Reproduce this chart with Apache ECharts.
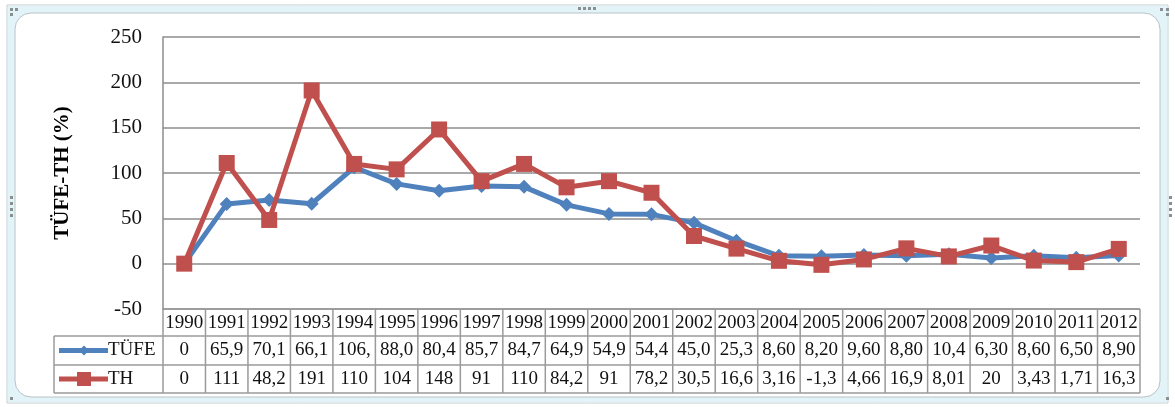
<!DOCTYPE html>
<html><head><meta charset="utf-8">
<script src="https://cdn.jsdelivr.net/npm/echarts@6/dist/echarts.min.js"></script>
<style>html,body{margin:0;padding:0;background:#fff;}#c{width:1175px;height:407px;}</style>
</head><body><div id="c"></div>
<script>
const years = ['1990','1991','1992','1993','1994','1995','1996','1997','1998','1999','2000','2001','2002','2003','2004','2005','2006','2007','2008','2009','2010','2011','2012'];
const tufe = [0,65.9,70.1,66.1,106.3,88.0,80.4,85.7,84.7,64.9,54.9,54.4,45.0,25.3,8.6,8.2,9.6,8.8,10.4,6.3,8.6,6.5,8.9];
const th = [0,111,48.2,191,110,104,148,91,110,84.2,91,78.2,30.5,16.6,3.16,-1.3,4.66,16.9,8.01,20,3.43,1.71,16.3];
const tufeLabels = ['0','65,9','70,1','66,1','106,','88,0','80,4','85,7','84,7','64,9','54,9','54,4','45,0','25,3','8,60','8,20','9,60','8,80','10,4','6,30','8,60','6,50','8,90'];
const thLabels = ['0','111','48,2','191','110','104','148','91','110','84,2','91','78,2','30,5','16,6','3,16','-1,3','4,66','16,9','8,01','20','3,43','1,71','16,3'];
const seriesNames = ['TÜFE','TH'];
const yTicks = {min:-50, max:250, interval:50};

const BLUE = '#4f81bd', RED = '#c0504d', GRID = '#8c8c8c';
const FONT = '"Liberation Serif","DejaVu Serif",serif';
const chart = echarts.init(document.getElementById('c'), null, {renderer:'canvas'});
chart.setOption({
  animation:false,
  grid:{left:163, top:37, right:35, bottom:98, containLabel:false},
  xAxis:{type:'category', data:years, boundaryGap:true,
    axisLine:{show:false}, axisTick:{show:false}, axisLabel:{show:false}, splitLine:{show:false}},
  yAxis:{type:'value', min:yTicks.min, max:yTicks.max, interval:yTicks.interval,
    name:'TÜFE-TH (%)', nameLocation:'middle', nameGap:90, nameRotate:90,
    nameTextStyle:{fontFamily:FONT, fontWeight:'bold', fontSize:21, color:'#000'},
    axisLine:{show:true, lineStyle:{color:GRID, width:1.5}}, axisTick:{show:false},
    axisLabel:{fontFamily:FONT, fontSize:21, color:'#111', margin:21},
    splitLine:{lineStyle:{color:GRID, width:1.5}}},
  series:[
    {name:seriesNames[0], type:'line', data:tufe, symbol:'diamond', symbolSize:14,
     lineStyle:{color:BLUE, width:5}, itemStyle:{color:BLUE}, z:2},
    {name:seriesNames[1], type:'line', data:th, symbol:'rect', symbolSize:16,
     lineStyle:{color:RED, width:5}, itemStyle:{color:RED}, z:3}
  ]
});

function buildTable(){
  const n = years.length;
  const p0 = chart.convertToPixel({gridIndex:0}, [0, yTicks.min]);
  const p1 = chart.convertToPixel({gridIndex:0}, [1, yTicks.min]);
  const bw = p1[0]-p0[0];
  const top = p0[1];
  const r1 = top+27, r2 = r1+29, r3 = r2+28;
  const left0 = p0[0]-bw/2, right0 = left0 + bw*n, legL = 54;
  const els = [];
  const ls = {stroke:'#9a9a9a', lineWidth:1.5};
  [[left0,top],[legL,r1],[legL,r2],[legL,r3]].forEach(([x,y])=>{
    els.push({type:'line', shape:{x1:x,y1:y,x2:right0,y2:y}, style:ls});
  });
  for(let k=0;k<=n;k++){
    const x = left0 + k*bw;
    els.push({type:'line', shape:{x1:x,y1:top,x2:x,y2:r3}, style:ls});
  }
  els.push({type:'line', shape:{x1:legL,y1:r1,x2:legL,y2:r3}, style:ls});
  const ts = {fontFamily:FONT, fontSize:19, fill:'#111', align:'center', verticalAlign:'middle'};
  for(let i=0;i<n;i++){
    const cx = chart.convertToPixel({xAxisIndex:0}, i);
    els.push({type:'text', x:cx, y:(top+r1)/2+1, style:Object.assign({text:years[i]}, ts)});
    els.push({type:'text', x:cx, y:(r1+r2)/2, style:Object.assign({text:tufeLabels[i]}, ts)});
    els.push({type:'text', x:cx, y:(r2+r3)/2, style:Object.assign({text:thLabels[i]}, ts)});
  }
  const ly1=(r1+r2)/2, ly2=(r2+r3)/2;
  els.push({type:'line', shape:{x1:59,y1:ly1,x2:108,y2:ly1}, style:{stroke:BLUE,lineWidth:5}});
  els.push({type:'polygon', shape:{points:[[84,ly1-5],[89,ly1],[84,ly1+5],[79,ly1]]}, style:{fill:BLUE}});
  els.push({type:'line', shape:{x1:59,y1:ly2,x2:108,y2:ly2}, style:{stroke:RED,lineWidth:5}});
  els.push({type:'rect', shape:{x:77,y:ly2-7,width:14,height:14}, style:{fill:RED}});
  const lt = {fontFamily:FONT, fontSize:19, fill:'#111', align:'left', verticalAlign:'middle'};
  els.push({type:'text', x:108, y:ly1, style:Object.assign({text:seriesNames[0]}, lt)});
  els.push({type:'text', x:108, y:ly2, style:Object.assign({text:seriesNames[1]}, lt)});
  const fr = [];
  fr.push({type:'rect', shape:{x:7,y:5,width:1161,height:398}, style:{fill:'none', stroke:'#c3cdd2', lineWidth:1}, z:-10});
  fr.push({type:'rect', shape:{x:8,y:6,width:1159,height:396}, style:{fill:'#e3f4f8'}, z:-11});
  fr.push({type:'rect', shape:{x:15,y:13,width:1145,height:384, r:16}, style:{fill:'#fff', stroke:'#b8c2c6', lineWidth:1}, z:-9});
  const dot = (x,y)=>fr.push({type:'rect', shape:{x:x,y:y,width:3,height:3}, style:{fill:'#8a8f93'}, z:-8});
  [578,583,588,593].forEach(x=>dot(x,7));
  [196,202,208,214].forEach(y=>{dot(10,y); dot(1169,y);});
  dot(10,8); dot(15,8); dot(10,13);
  dot(1160,8); dot(1166,8); dot(1166,13);
  dot(10,397);
  dot(1166,397);
  chart.setOption({graphic:{elements:fr.concat(els)}});
}
buildTable();
</script></body></html>
